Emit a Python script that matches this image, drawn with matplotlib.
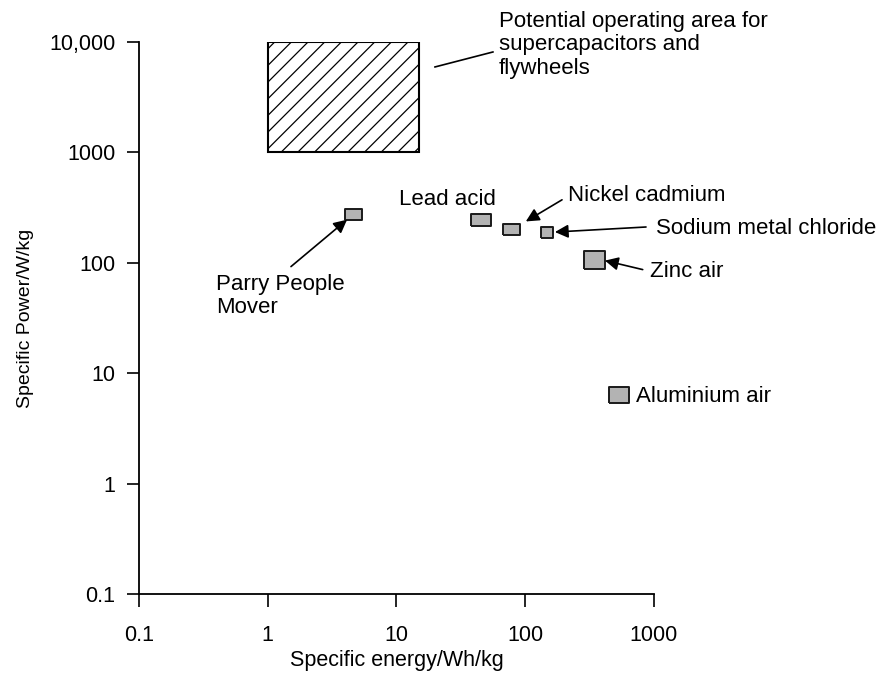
import matplotlib
matplotlib.use('Agg')
import matplotlib.pyplot as plt

plt.rcParams['font.family'] = ['Liberation Sans', 'DejaVu Sans']
plt.rcParams['hatch.linewidth'] = 0.9

# Storage technologies: specific energy (Wh/kg) vs specific power (W/kg)
names = ['Parry People Mover', 'Lead acid', 'Nickel cadmium',
         'Sodium metal chloride', 'Zinc air', 'Aluminium air']
energy = [4.6, 45, 77, 148, 342, 535]
power = [279, 243, 204, 190, 105, 6.3]

# supercapacitor / flywheel region
sc_energy = [1, 15]
sc_power = [1000, 10000]

x_ticks = [0.1, 1, 10, 100, 1000]
x_tick_labels = ['0.1', '1', '10', '100', '1000']
y_ticks = [0.1, 1, 10, 100, 1000, 10000]
y_tick_labels = ['0.1', '1', '10', '100', '1000', '10,000']

# box sizes in pixels (w, h)
box_sizes = [(17, 11), (20, 12), (17, 11), (12, 11), (21, 18), (20, 16)]

fig = plt.figure(figsize=(8.79, 6.73), dpi=100)
ax = fig.add_axes([139 / 879, 1 - 594 / 673, (654 - 139) / 879, (594 - 42) / 673])

ax.set_xscale('log')
ax.set_yscale('log')
ax.set_xlim(0.1, 1000)
ax.set_ylim(0.1, 10000)

ax.fill([sc_energy[0], sc_energy[1], sc_energy[1], sc_energy[0]],
        [sc_power[0], sc_power[0], sc_power[1], sc_power[1]],
        facecolor='white', edgecolor='black', hatch='//', linewidth=1.5, zorder=2)

for (x, y), (w, h) in zip(zip(energy, power), box_sizes):
    verts = [(-w / 2, -h / 2), (w / 2, -h / 2), (w / 2, h / 2), (-w / 2, h / 2), (-w / 2, -h / 2)]
    ax.plot(x, y, marker=verts, markersize=max(w, h) * 0.72, markerfacecolor='#b3b3b3',
            markeredgecolor='#1a1a1a', markeredgewidth=1.4, linestyle='none', zorder=3)

fs = 16
arrow = dict(arrowstyle='-|>', color='black', lw=1.2, mutation_scale=20, shrinkA=0, shrinkB=0)

# labels
ax.text(62.5, 9400, 'Potential operating area for\nsupercapacitors and\nflywheels',
        fontsize=fs, ha='left', va='center', linespacing=1.15)
ax.plot([19.9, 56.1], [5942, 8121], color='black', lw=1.2)

ax.text(24.7, 372, names[1], fontsize=fs, ha='center', va='center')

ax.text(215, 405, names[2], fontsize=fs, ha='left', va='center')
ax.annotate('', xy=(101, 237), xytext=(193, 372), arrowprops=arrow)

ax.text(1036, 204, names[3], fontsize=fs, ha='left', va='center')
ax.annotate('', xy=(170, 190), xytext=(867, 211), arrowprops=arrow)

ax.text(931, 83.2, names[4], fontsize=fs, ha='left', va='center')
ax.annotate('', xy=(416, 104.7), xytext=(817, 86.8), arrowprops=arrow)

ax.text(725, 6.17, names[5], fontsize=fs, ha='left', va='center')

ax.text(0.396, 50, 'Parry People\nMover', fontsize=fs, ha='left', va='center', linespacing=1.15)
ax.annotate('', xy=(4.13, 246), xytext=(1.515, 92.4), arrowprops=arrow)

ax.set_xticks(x_ticks)
ax.set_xticklabels(x_tick_labels)
ax.set_yticks(y_ticks)
ax.set_yticklabels(y_tick_labels)
ax.minorticks_off()
ax.tick_params(axis='both', labelsize=15.5, length=9, width=1.2, direction='out')
ax.tick_params(axis='x', pad=13)
ax.tick_params(axis='y', pad=8)

for side in ['top', 'right']:
    ax.spines[side].set_visible(False)
for side in ['left', 'bottom']:
    ax.spines[side].set_linewidth(1.3)

ax.set_xlabel('Specific energy/Wh/kg', fontsize=15.5, labelpad=3.5)
ax.set_ylabel('Specific Power/W/kg', fontsize=14, labelpad=11)

fig.savefig('out.png', dpi=100)
